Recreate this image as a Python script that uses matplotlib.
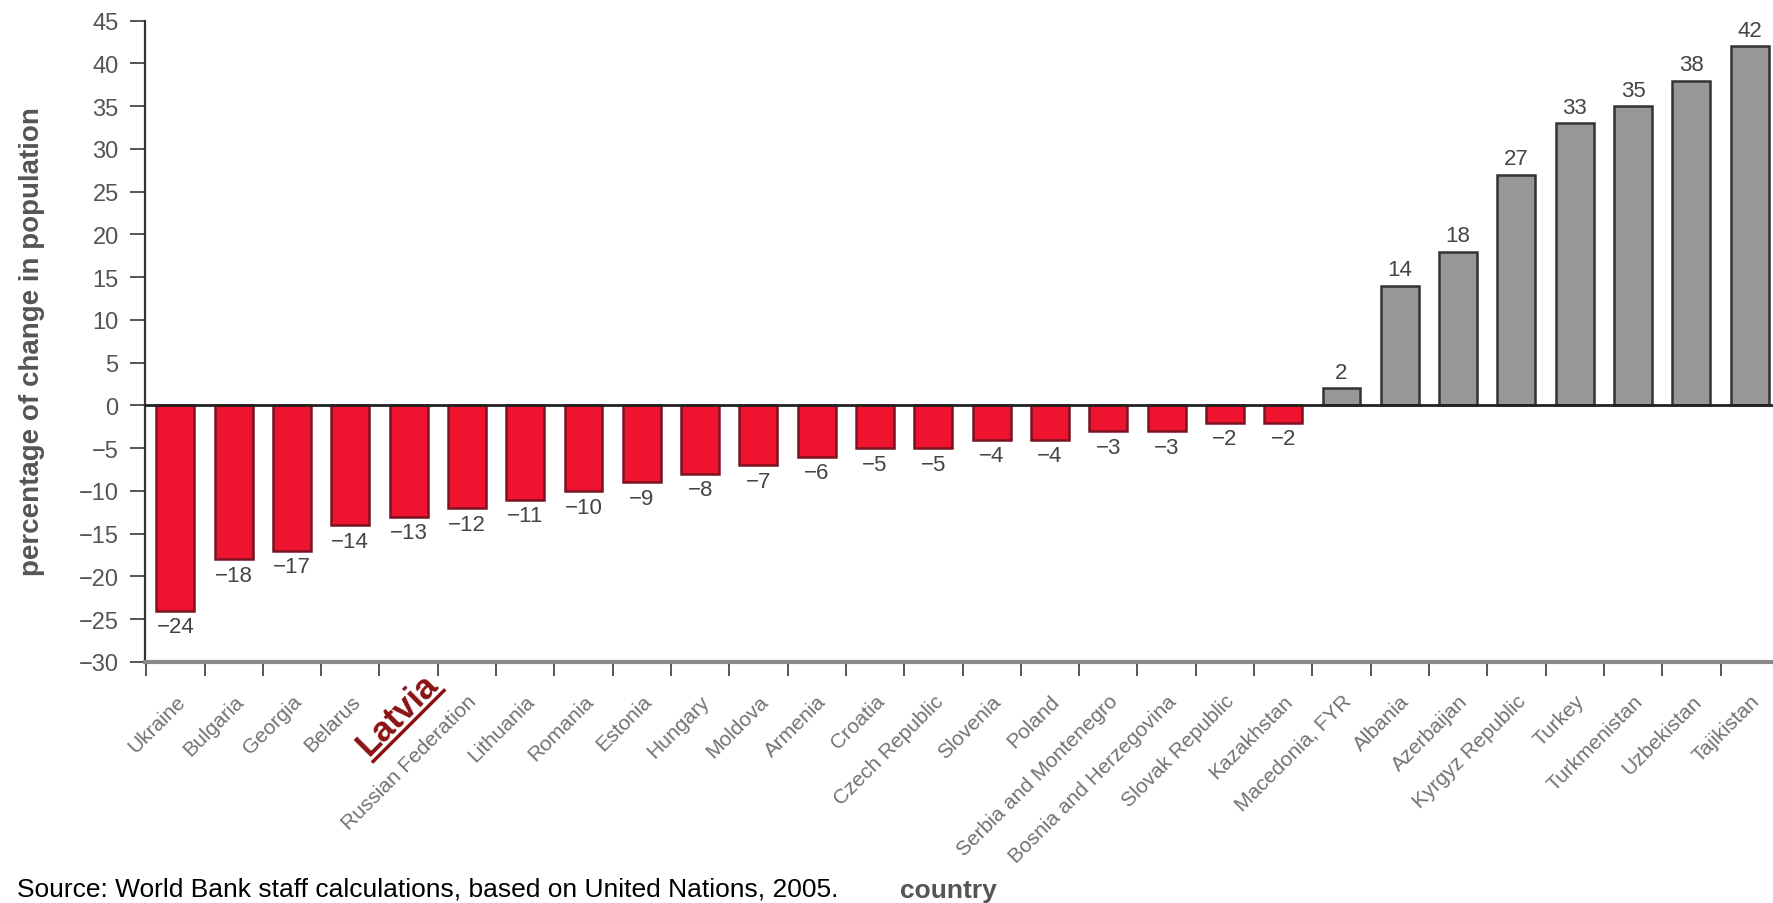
import matplotlib.pyplot as plt
from matplotlib.lines import Line2D
import numpy as np

countries = ['Ukraine', 'Bulgaria', 'Georgia', 'Belarus', 'Latvia', 'Russian Federation',
             'Lithuania', 'Romania', 'Estonia', 'Hungary', 'Moldova', 'Armenia', 'Croatia',
             'Czech Republic', 'Slovenia', 'Poland', 'Serbia and Montenegro',
             'Bosnia and Herzegovina', 'Slovak Republic', 'Kazakhstan', 'Macedonia, FYR',
             'Albania', 'Azerbaijan', 'Kyrgyz Republic', 'Turkey', 'Turkmenistan',
             'Uzbekistan', 'Tajikistan']
change = [-24, -18, -17, -14, -13, -12, -11, -10, -9, -8, -7, -6, -5, -5, -4, -4,
          -3, -3, -2, -2, 2, 14, 18, 27, 33, 35, 38, 42]
yticks = list(range(-30, 46, 5))
highlight = 'Latvia'

plt.rcParams['font.family'] = ['Liberation Sans', 'DejaVu Sans']

fig = plt.figure(figsize=(17.73, 9.04), dpi=100)
ax = fig.add_axes([0.0818, 0.2666, 0.9182, 0.7094])

x = np.arange(len(countries))
fills = ['#ee1430' if v < 0 else '#979797' for v in change]
edges = ['#7a1222' if v < 0 else '#333333' for v in change]
ax.bar(x, change, width=0.65, color=fills, edgecolor=edges, linewidth=1.8, zorder=2)
ax.axhline(0, color='#222222', lw=2, zorder=3)

# value labels
for i, v in enumerate(change):
    txt = str(v).replace('-', '\u2212')
    off = 4 if v > 0 else -4
    ax.annotate(txt, (i, v), xytext=(0, off), textcoords='offset points',
                ha='center', va='bottom' if v > 0 else 'top', fontsize=16,
                color='#444444', zorder=4,
                bbox=dict(facecolor='white', edgecolor='none', pad=0.5))

ax.set_xlim(-0.52, 27.4)
ax.set_ylim(-30, 45)
ax.set_yticks(yticks)
ax.set_yticklabels([str(t).replace('-', '\u2212') for t in yticks], fontsize=17, color='#555555')
ax.tick_params(axis='y', length=11, width=1.4, color='#555555', pad=8)

labels = ['' if c == highlight else c for c in countries]
ax.set_xticks(x)
ax.set_xticklabels(labels, rotation=45, ha='right', rotation_mode='anchor',
                   fontsize=15, color='#727272')
ax.tick_params(axis='x', which='major', length=0, pad=21)
ax.set_xticks(x - 0.5, minor=True)
ax.tick_params(axis='x', which='minor', length=10, width=1.4, color='#555555')

# highlighted country, underlined
hi = countries.index(highlight)
lat_off = (22, -17)
lat_size = 25
ax.annotate(highlight, (hi, 0), xycoords=('data', 'axes fraction'),
            xytext=lat_off, textcoords='offset points', rotation=45,
            ha='right', va='baseline', rotation_mode='anchor', fontsize=lat_size,
            fontweight='bold', color='#8b1212', zorder=5,
            bbox=dict(facecolor='white', edgecolor='none', pad=1))

for s in ['top', 'right']:
    ax.spines[s].set_visible(False)
ax.spines['left'].set_color('#333333')
ax.spines['left'].set_linewidth(1.6)
ax.spines['bottom'].set_color('#8a8a8a')
ax.spines['bottom'].set_linewidth(3)

fig.text(0.018, 0.622, 'percentage of change in population', rotation=90, ha='center',
         va='center', fontsize=20, fontweight='bold', color='#555555')
fig.text(0.0096, 0.0155, 'Source: World Bank staff calculations, based on United Nations, 2005.',
         fontsize=19, color='black', va='center')
fig.text(0.535, 0.0066, 'country', ha='center', va='baseline', fontsize=19,
         fontweight='bold', color='#555555')

# underline: measure the unrotated word, then draw along the baseline
fig.canvas.draw()
r = fig.canvas.get_renderer()
tmp = fig.text(0, 0, highlight, fontsize=lat_size, fontweight='bold')
w = tmp.get_window_extent(r).width
tmp.remove()
px = fig.dpi / 72.0
ex = ax.transData.transform((hi, 0))[0] + lat_off[0] * px
ey = ax.transAxes.transform((0, 0))[1] + lat_off[1] * px
c = np.cos(np.pi / 4)
d = 5 * px  # shift below baseline
x1, y1 = ex + d * c, ey - d * c
x2, y2 = x1 - w * c, y1 - w * c
fx, fy = fig.transFigure.inverted().transform([(x1, y1), (x2, y2)]).T
fig.add_artist(Line2D(fx, fy, color='#8b1212', lw=2.5, transform=fig.transFigure, zorder=6))

plt.savefig('out.png', dpi=100)
